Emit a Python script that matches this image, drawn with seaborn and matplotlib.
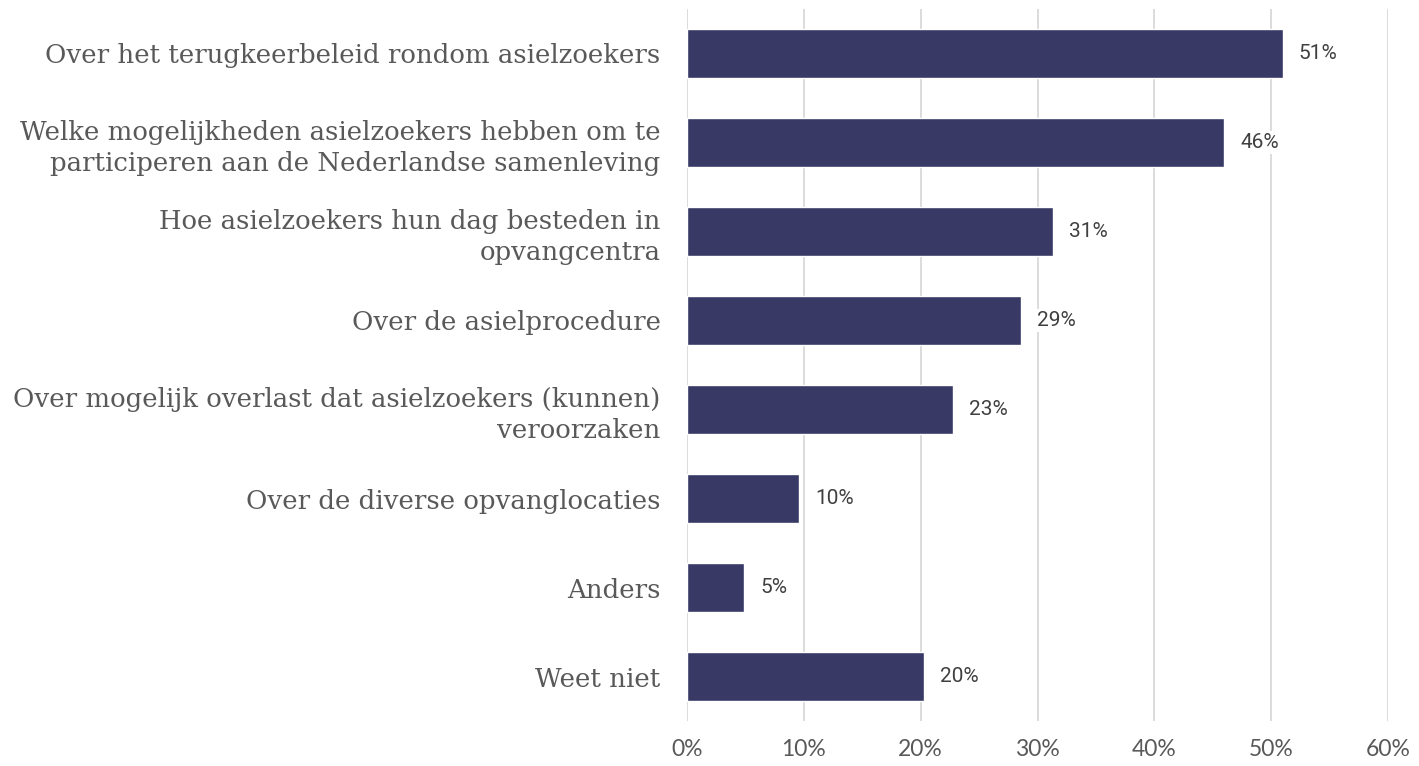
import numpy as np
import pandas as pd
import matplotlib.pyplot as plt
import seaborn as sns

# categorieen en percentages
categories = [
    'Over het terugkeerbeleid rondom asielzoekers',
    'Welke mogelijkheden asielzoekers hebben om te\nparticiperen aan de Nederlandse samenleving',
    'Hoe asielzoekers hun dag besteden in\nopvangcentra',
    'Over de asielprocedure',
    'Over mogelijk overlast dat asielzoekers (kunnen)\nveroorzaken',
    'Over de diverse opvanglocaties',
    'Anders',
    'Weet niet',
]
values = [51.0, 46.0, 31.3, 28.6, 22.8, 9.6, 4.9, 20.3]
value_labels = ['51%', '46%', '31%', '29%', '23%', '10%', '5%', '20%']
xticks = [0, 10, 20, 30, 40, 50, 60]
xtick_labels = ['0%', '10%', '20%', '30%', '40%', '50%', '60%']

df = pd.DataFrame({'cat': categories, 'val': values})

sns.set_style('white')
fig = plt.figure(figsize=(14.19, 7.66), dpi=100)
ax = fig.add_axes([0.4841, 0.0581, 0.4941, 0.9308])

sns.barplot(data=df, x='val', y='cat', orient='h', color='#383a65',
            saturation=1, width=0.55, ax=ax, zorder=3)

ax.set_xlim(0, 60)
ax.set_ylim(7.5, -0.5)
ax.set_xticks(xticks)
ax.set_xticklabels(xtick_labels, family=['Lato', 'DejaVu Sans'], fontsize=16.5, color='#595959')
ax.set_yticks(range(len(categories)))
ax.set_yticklabels(categories, family=['DejaVu Serif'], fontsize=18.7, color='#595959',
                   linespacing=1.3)
ax.tick_params(axis='y', length=0, pad=19)
ax.tick_params(axis='x', length=7.5, width=1.3, color='#d9d9d9', pad=5)

ax.grid(axis='x', color='#d9d9d9', linewidth=1.3, zorder=0)
ax.set_axisbelow(True)
for s in ax.spines.values():
    s.set_visible(False)
ax.set_xlabel('')
ax.set_ylabel('')

for i, (v, lab) in enumerate(zip(values, value_labels)):
    ax.annotate(lab, (v, i), xytext=(11.5, 0), textcoords='offset points',
                va='center', ha='left', family=['Roboto', 'DejaVu Sans'],
                fontsize=15, color='#404040', zorder=4,
                bbox=dict(facecolor='white', edgecolor='none', pad=1.5))

fig.savefig('out.png', dpi=100)
